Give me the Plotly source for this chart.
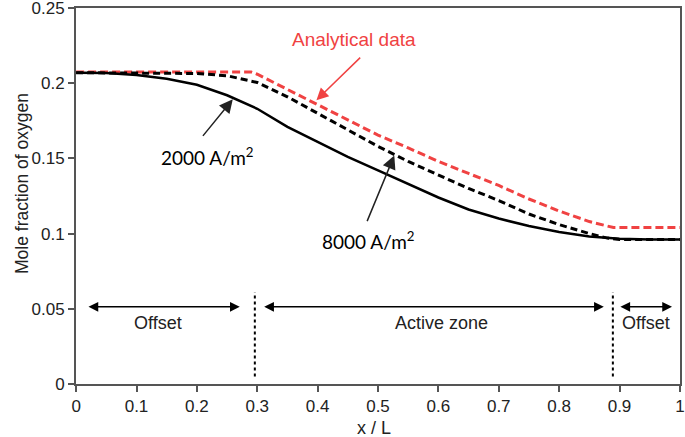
import plotly.graph_objects as go

# ---- data ----
x_analytical = [0.0, 0.29, 0.30, 0.35, 0.40, 0.45, 0.50, 0.55, 0.60, 0.65, 0.70, 0.75, 0.80, 0.85, 0.89, 1.0]
y_analytical = [0.2075, 0.2075, 0.206, 0.196, 0.186, 0.176, 0.1655, 0.157, 0.148, 0.140, 0.132, 0.123, 0.115, 0.108, 0.104, 0.104]

x_8000 = [0.0, 0.20, 0.25, 0.30, 0.35, 0.40, 0.45, 0.50, 0.55, 0.60, 0.65, 0.70, 0.75, 0.80, 0.85, 0.88, 0.90, 1.0]
y_8000 = [0.207, 0.2065, 0.205, 0.2005, 0.191, 0.180, 0.169, 0.158, 0.148, 0.139, 0.130, 0.122, 0.113, 0.106, 0.100, 0.097, 0.096, 0.096]

x_2000 = [0.0, 0.05, 0.10, 0.15, 0.20, 0.25, 0.30, 0.35, 0.40, 0.45, 0.50, 0.55, 0.60, 0.65, 0.70, 0.75, 0.80, 0.85, 0.90, 0.95, 1.0]
y_2000 = [0.207, 0.2068, 0.2055, 0.203, 0.199, 0.192, 0.183, 0.171, 0.161, 0.151, 0.142, 0.133, 0.124, 0.116, 0.110, 0.105, 0.101, 0.098, 0.0965, 0.096, 0.096]

zone_bounds = [0.296, 0.889]
x_ticks = [0, 0.1, 0.2, 0.3, 0.4, 0.5, 0.6, 0.7, 0.8, 0.9, 1]
x_ticklabels = ["0", "0.1", "0.2", "0.3", "0.4", "0.5", "0.6", "0.7", "0.8", "0.9", "1"]
y_ticks = [0, 0.05, 0.1, 0.15, 0.2, 0.25]
y_ticklabels = ["0", "0.05", "0.1", "0.15", "0.2", "0.25"]

RED = "rgb(240,66,66)"

fig = go.Figure()
fig.add_trace(go.Scatter(x=x_analytical, y=y_analytical, mode="lines",
                         line=dict(color=RED, width=3, dash="8px,4px"), name="Analytical data"))
fig.add_trace(go.Scatter(x=x_8000, y=y_8000, mode="lines",
                         line=dict(color="black", width=3, dash="7px,4px"), name="8000 A/m2"))
fig.add_trace(go.Scatter(x=x_2000, y=y_2000, mode="lines",
                         line=dict(color="black", width=2.5), name="2000 A/m2"))

shapes = []
for xb in zone_bounds:
    shapes.append(dict(type="line", xref="x", yref="y", x0=xb, x1=xb, y0=0.005, y1=0.061,
                       line=dict(color="black", width=2, dash="dot")))

ann = []
# double arrows
for (a, b) in [(0.018, 0.271), (0.309, 0.874), (0.899, 0.987)]:
    ann.append(dict(x=b, y=0.0513, ax=a, ay=0.0513, xref="x", yref="y", axref="x", ayref="y",
                    text="", showarrow=True, arrowhead=2, arrowside="end+start",
                    arrowsize=1.3, arrowwidth=1.5, arrowcolor="black", standoff=0, startstandoff=0))
zone_font = dict(family="Liberation Sans, Arial", size=18, color="#222")
ann.append(dict(x=0.136, y=0.0407, xref="x", yref="y", text="Offset", showarrow=False, font=zone_font))
ann.append(dict(x=0.605, y=0.0407, xref="x", yref="y", text="Active zone", showarrow=False, font=zone_font))
ann.append(dict(x=0.944, y=0.0407, xref="x", yref="y", text="Offset", showarrow=False, font=zone_font))

# curve labels
ann.append(dict(x=0.398, y=0.1887, ax=0.473, ay=0.218, xref="x", yref="y", axref="x", ayref="y",
                text="", showarrow=True, arrowhead=2, arrowsize=1.6, arrowwidth=1.5,
                arrowcolor=RED, standoff=0))
ann.append(dict(x=0.461, y=0.2293, xref="x", yref="y", text="Analytical data", showarrow=False,
                font=dict(family="Liberation Sans, Arial", size=19, color=RED)))

ann.append(dict(x=0.2595, y=0.1893, ax=0.208, ay=0.164, xref="x", yref="y", axref="x", ayref="y",
                text="", showarrow=True, arrowhead=2, arrowsize=1.8, arrowwidth=1.5,
                arrowcolor="#222", standoff=0))
ann.append(dict(x=0.2182, y=0.1513, xref="x", yref="y", text="2000 A/m<sup>2</sup>", showarrow=False,
                font=dict(family="Lato, Open Sans", size=19, color="black")))

ann.append(dict(x=0.527, y=0.152, ax=0.481, ay=0.1073, xref="x", yref="y", axref="x", ayref="y",
                text="", showarrow=True, arrowhead=2, arrowsize=1.8, arrowwidth=1.5,
                arrowcolor="#222", standoff=0))
ann.append(dict(x=0.4843, y=0.0953, xref="x", yref="y", text="8000 A/m<sup>2</sup>", showarrow=False,
                font=dict(family="Lato, Open Sans", size=19, color="black")))

# axis titles (pixel positions converted to paper coords)
L, R, T, B = 76, 5, 8, 53
W, H = 685, 437
pw, ph = W - L - R, H - T - B
ann.append(dict(x=(10 - L) / pw, y=(H - B - 184) / ph, xref="paper", yref="paper",
                text="Mole fraction of oxygen", showarrow=False, textangle=-90,
                font=dict(family="Liberation Sans, Arial", size=17.5, color="#222")))
ann.append(dict(x=(374 - L) / pw, y=(H - B - 440) / ph, xref="paper", yref="paper",
                yanchor="bottom", text="x / L", showarrow=False,
                font=dict(family="Liberation Sans, Arial", size=18, color="#222")))

axis_common = dict(showline=True, linecolor="#555", linewidth=2, mirror=True, showgrid=False,
                   zeroline=False, ticks="outside", ticklen=6, tickwidth=1.5, tickcolor="#555",
                   automargin=False, ticklabeloverflow="allow",
                   tickfont=dict(family="Liberation Sans, Arial", size=17, color="#222"))

fig.update_layout(
    width=W, height=H,
    margin=dict(l=L, r=R, t=T, b=B, autoexpand=False),
    paper_bgcolor="white", plot_bgcolor="white",
    showlegend=False,
    xaxis=dict(range=[-0.0002, 1.0002], tickvals=x_ticks, ticktext=x_ticklabels, **axis_common),
    yaxis=dict(range=[-0.00005, 0.25005], tickvals=y_ticks, ticktext=y_ticklabels, **axis_common),
    shapes=shapes,
    annotations=ann,
)

fig.write_html("out.html", config={"displayModeBar": False},
               post_script="document.body.style.margin='0';document.body.style.overflow='hidden';")
